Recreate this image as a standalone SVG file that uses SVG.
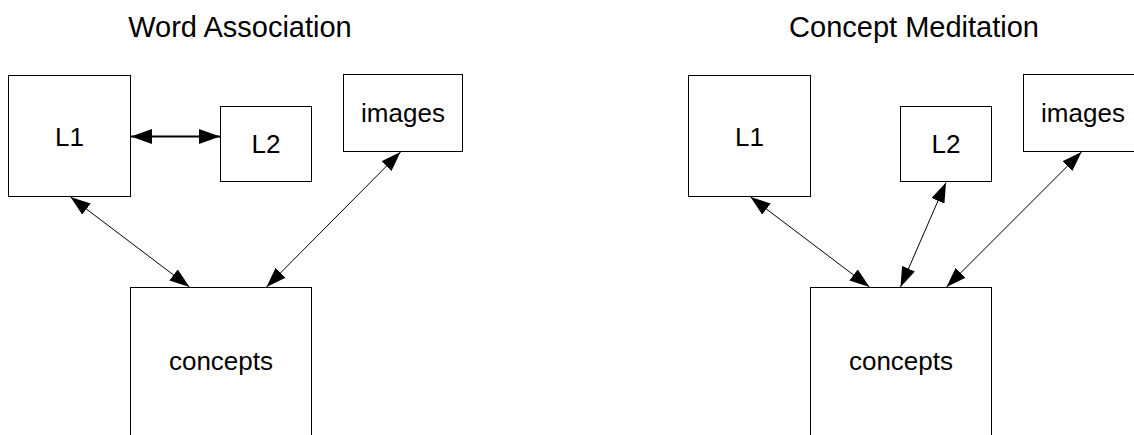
<svg xmlns="http://www.w3.org/2000/svg" width="1134" height="435" viewBox="0 0 1134 435">
  <style>
    .box { fill: #ffffff; stroke: #000000; stroke-width: 1; }
    .title { font-family: "Liberation Sans", Arial, sans-serif; font-size: 29px; fill: #000000; text-anchor: middle; }
    .label { font-family: "Liberation Sans", Arial, sans-serif; font-size: 26px; fill: #000000; text-anchor: middle; }
    .link { stroke: #000000; stroke-width: 1; fill: none; marker-start: url(#head); marker-end: url(#head); }
    .link.bold { stroke-width: 2; marker-start: url(#headBig); marker-end: url(#headBig); }
  </style>
  <defs>
    <marker id="head" markerUnits="userSpaceOnUse" markerWidth="20" markerHeight="14" refX="20" refY="7" orient="auto-start-reverse" viewBox="0 0 20 14">
      <path d="M0,0 L20,7 L0,14 z" fill="#000000"/>
    </marker>
    <marker id="headBig" markerUnits="userSpaceOnUse" markerWidth="21" markerHeight="15" refX="21" refY="7.5" orient="auto-start-reverse" viewBox="0 0 21 15">
      <path d="M0,0 L21,7.5 L0,15 z" fill="#000000"/>
    </marker>
  </defs>
  <rect width="1134" height="435" fill="#ffffff"/>

  <!-- Left model: word association -->
  <text class="title" x="240" y="37">Word Association</text>
  <g id="wa-L1">
    <rect class="box" x="8.5" y="75.5" width="122" height="121"/>
    <text class="label" x="69.5" y="146">L1</text>
  </g>
  <g id="wa-L2">
    <rect class="box" x="220.5" y="106.5" width="91" height="75"/>
    <text class="label" x="266" y="153">L2</text>
  </g>
  <g id="wa-images">
    <rect class="box" x="343.5" y="74.5" width="119" height="77"/>
    <text class="label" x="403" y="122">images</text>
  </g>
  <g id="wa-concepts">
    <rect class="box" x="130.5" y="287.5" width="181" height="149"/>
    <text class="label" x="221" y="370">concepts</text>
  </g>

  <!-- Right model: concept mediation -->
  <text class="title" x="914" y="37">Concept Meditation</text>
  <g id="cm-L1">
    <rect class="box" x="688.5" y="75.5" width="122" height="121"/>
    <text class="label" x="749.5" y="146">L1</text>
  </g>
  <g id="cm-L2">
    <rect class="box" x="900.5" y="106.5" width="91" height="75"/>
    <text class="label" x="946" y="153">L2</text>
  </g>
  <g id="cm-images">
    <rect class="box" x="1023.5" y="74.5" width="119" height="77"/>
    <text class="label" x="1083" y="122">images</text>
  </g>
  <g id="cm-concepts">
    <rect class="box" x="810.5" y="287.5" width="181" height="149"/>
    <text class="label" x="901" y="370">concepts</text>
  </g>

  <!-- Connectors -->
  <g id="connectors">
    <line class="link bold" x1="131" y1="136.5" x2="220" y2="136.5"/>
    <line class="link" x1="70.5" y1="197" x2="189.5" y2="287"/>
    <line class="link" x1="400.5" y1="152" x2="266.5" y2="287"/>

    <line class="link" x1="750.5" y1="197" x2="869.5" y2="287"/>
    <line class="link" x1="946" y1="182.5" x2="900.5" y2="287"/>
    <line class="link" x1="1081.5" y1="152" x2="946.5" y2="287"/>
  </g>
</svg>
